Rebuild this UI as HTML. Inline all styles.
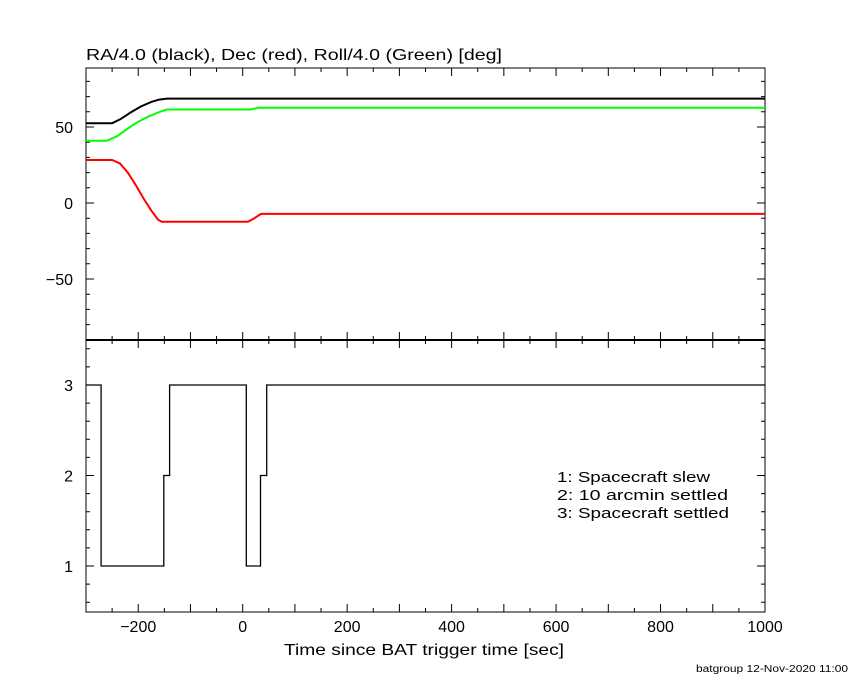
<!DOCTYPE html>
<html><head><meta charset="utf-8"><style>
body{margin:0;background:#fff;}
svg text{font-family:"Liberation Sans",sans-serif;fill:#000;}
</style></head><body>
<svg id="c" width="850" height="680" xmlns="http://www.w3.org/2000/svg">
<rect width="850" height="680" fill="#fff"/>
<text x="86" y="60" font-size="16" textLength="416" lengthAdjust="spacingAndGlyphs">RA/4.0 (black), Dec (red), Roll/4.0 (Green) [deg]</text>
<text x="284" y="655" font-size="16" textLength="280" lengthAdjust="spacingAndGlyphs">Time since BAT trigger time [sec]</text>
<text x="696" y="672" font-size="10" textLength="152" lengthAdjust="spacingAndGlyphs">batgroup 12-Nov-2020 11:00</text>
<g font-size="15">
<text x="557" y="482" textLength="153" lengthAdjust="spacingAndGlyphs">1: Spacecraft slew</text>
<text x="557" y="500" textLength="171" lengthAdjust="spacingAndGlyphs">2: 10 arcmin settled</text>
<text x="557" y="518" textLength="172" lengthAdjust="spacingAndGlyphs">3: Spacecraft settled</text>
</g>
</svg>
<script>
const raT=[-300,-250,-235,-215,-195,-175,-160,-145,1000];
const raV=[52.5,52.5,55,59.5,63.5,66.5,68,68.7,68.7];
const rollT=[-300,-260,-240,-220,-200,-180,-160,-145,15,30,1000];
const rollV=[41,41,44,49,53.5,57,59.8,61.5,61.5,62.6,62.6];
const decT=[-300,-250,-235,-220,-205,-190,-175,-162,-155,10,20,35,1000];
const decV=[28.3,28.3,26,20,12,3,-5,-11,-12.3,-12.3,-10.5,-7.2,-7.2];
const modeT=[-300,-271,-151,-140,7,34,46,1000];
const modeV=[3,1,2,3,1,2,3,3];
const xTicks=[-200,0,200,400,600,800,1000];
const topTicks=[-50,0,50];
const botTicks=[1,2,3];
const L=86,R=765,T=68,M=340,B=612;
const sx=t=>L+(t+300)*(R-L)/1300;
const sy1=v=>203-v*1.52;
const sy2=v=>566-(v-1)*90.5;
const svg=document.getElementById('c');
const NS='http://www.w3.org/2000/svg';
function mk(tag,attrs){const e=document.createElementNS(NS,tag);for(const k in attrs)e.setAttribute(k,attrs[k]);svg.appendChild(e);return e;}
let fr=mk('rect',{x:L,y:T,width:R-L,height:B-T,fill:'none',stroke:'#000','stroke-width':1});


let dv=mk('line',{x1:L,x2:R,y1:M,y2:M,stroke:'#000','stroke-width':2});


let tk='';
for(let t=-300;t<=1000;t+=50){const len=(t%100===0)?8:4;const x=sx(t);
 tk+=`M${x} ${B}v${-len}M${x} ${M}v${len}M${x} ${M}v${-len}M${x} ${T}v${len}`;}
for(let v=-90;v<=85;v+=10){const len=(v%50===0)?8:4;const y=sy1(v);tk+=`M${L} ${y}h${len}M${R} ${y}h${-len}`;}
for(let v=0.6;v<=3.41;v+=0.2){const y=sy2(v);const len=(Math.abs(v-Math.round(v))<0.01)?8:4;tk+=`M${L} ${y}h${len}M${R} ${y}h${-len}`;}
let tp=mk('path',{d:tk,stroke:'#000','stroke-width':1,fill:'none'});


xTicks.forEach(t=>{let e=mk('text',{x:sx(t),y:632,'font-size':16,'text-anchor':'middle'});e.textContent=(t<0?'\u2212'+(-t):t);

});
topTicks.forEach(v=>{let e=mk('text',{x:L-13,y:sy1(v)+6,'font-size':16,'text-anchor':'end'});e.textContent=(v<0?'\u2212'+(-v):v);

});
botTicks.forEach(v=>{let e=mk('text',{x:L-13,y:sy2(v)+6,'font-size':16,'text-anchor':'end'});e.textContent=v;

});
function line(ts,vs,col,name){const d=ts.map((t,i)=>(i?'L':'M')+sx(t).toFixed(1)+' '+sy1(vs[i]).toFixed(1)).join('');
 let p=mk('path',{d:d,stroke:col,'stroke-width':2,fill:'none'});
 
 }
line(raT,raV,'#000','ra-line');
line(rollT,rollV,'#00ff00','roll-line');
line(decT,decV,'#ff0000','dec-line');
let d='M'+sx(modeT[0])+' '+sy2(modeV[0]);
for(let i=1;i<modeT.length;i++){d+='H'+sx(modeT[i]).toFixed(1)+'V'+sy2(modeV[i]).toFixed(1);}
let mp=mk('path',{d:d,stroke:'#000','stroke-width':1.3,fill:'none'});


</script>
</body></html>
